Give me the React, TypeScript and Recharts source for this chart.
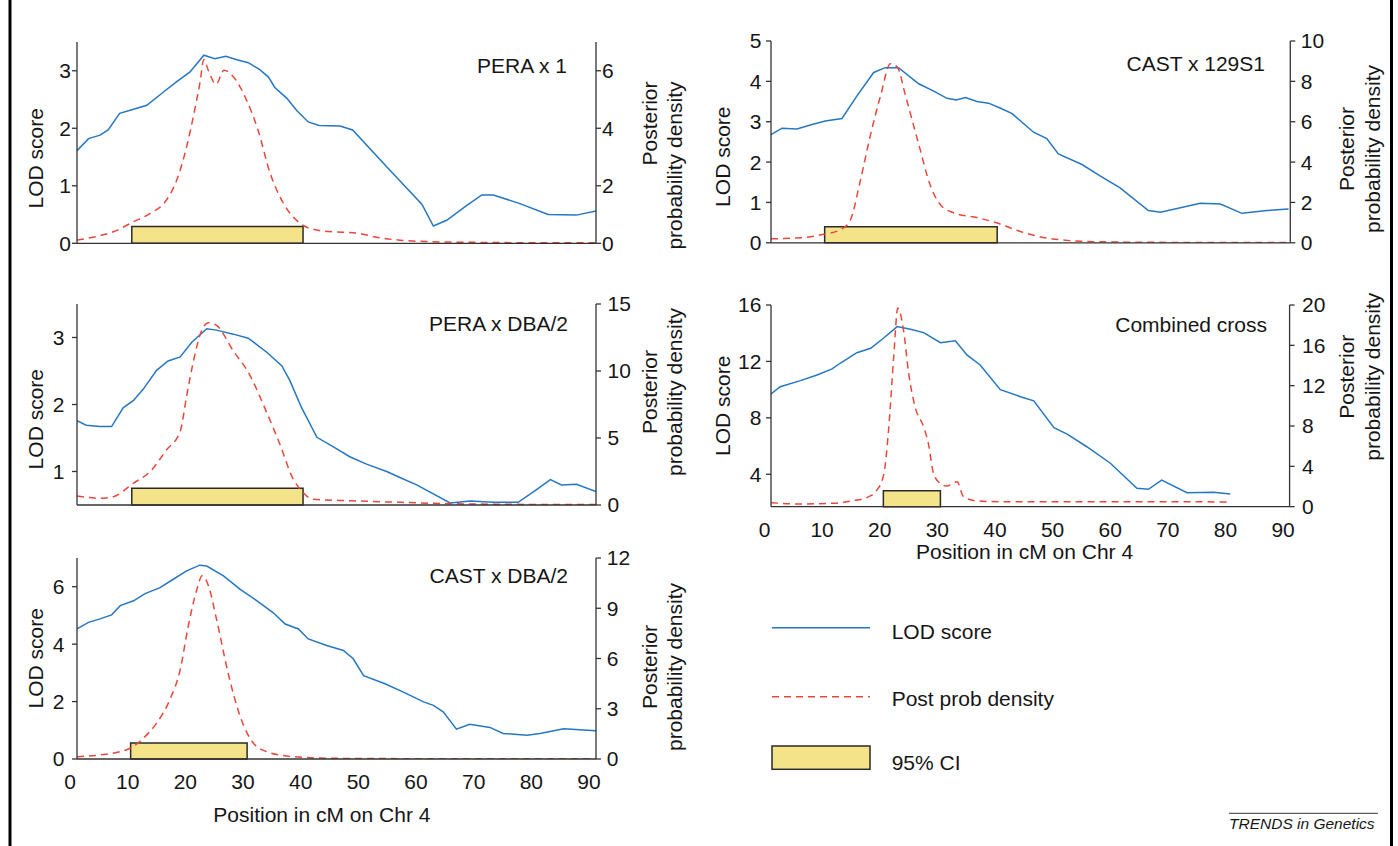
import React from 'react';
import { ComposedChart, Line, XAxis, YAxis, ReferenceArea } from 'recharts';

type Pt = [number, number];

const FONT = '"Liberation Sans", Arial, Helvetica, sans-serif';
const BLUE = '#2677c2';
const RED = '#e6483b';
const YELLOW = '#f5e38a';
const AXIS = '#333333';
const TEXT = '#161616';

const positionTicks = [0, 10, 20, 30, 40, 50, 60, 70, 80, 90];

// PERA x 1
const pera1Lod: Pt[] = [
  [0, 1.61], [2, 1.82], [4, 1.88], [5.4, 1.97], [7.4, 2.26], [9.8, 2.33], [12.1, 2.4], [15, 2.63],
  [17.3, 2.81], [19.6, 2.98], [22, 3.27], [23.9, 3.21], [25.8, 3.25], [27.7, 3.19], [29.7, 3.14],
  [31.7, 3.02], [33.2, 2.89], [34.3, 2.71], [36.4, 2.52], [38.1, 2.31], [40.1, 2.11], [42, 2.05],
  [45.6, 2.04], [47.8, 1.97], [53.7, 1.33], [59.8, 0.68], [61.8, 0.3], [64.1, 0.4], [67.6, 0.66],
  [70.2, 0.84], [72.2, 0.84], [76.8, 0.69], [81.7, 0.5], [86.6, 0.49], [90, 0.56],
];
const pera1Post: Pt[] = [
  [0, 0.11], [3, 0.22], [6.3, 0.4], [9.8, 0.75], [12.7, 1.04], [15.5, 1.5], [17.3, 2.2], [19, 3.35],
  [20.4, 4.63], [21.3, 5.56], [22, 6.39], [22.8, 6.0], [24.1, 5.53], [25.5, 6.02], [27.1, 5.79],
  [29.4, 4.98], [31.4, 3.93], [33.5, 2.43], [35.8, 1.39], [38.7, 0.69], [41.6, 0.46], [44.4, 0.4],
  [47.9, 0.37], [53.1, 0.17], [56, 0.11], [60.6, 0.06], [70, 0.03], [80, 0.02], [90, 0.02],
];

// PERA x DBA/2
const peraDbaLod: Pt[] = [
  [0, 1.76], [1.6, 1.69], [4, 1.67], [6, 1.67], [8, 1.95], [9.8, 2.06], [11.5, 2.23], [13.8, 2.51],
  [15.8, 2.65], [17.9, 2.71], [19.9, 2.93], [22.5, 3.13], [24.2, 3.11], [27.1, 3.05], [29.7, 2.99],
  [32.9, 2.78], [35.5, 2.58], [36.9, 2.36], [38.9, 1.96], [41.6, 1.51], [44.4, 1.37], [47.3, 1.22],
  [50.2, 1.11], [53.7, 1.0], [56, 0.91], [58.9, 0.8], [64.7, 0.53], [68.2, 0.56], [72.2, 0.54],
  [76.5, 0.54], [79.2, 0.7], [82.1, 0.88], [84, 0.8], [86.6, 0.81], [90, 0.7],
];
const peraDbaPost: Pt[] = [
  [0, 0.68], [4, 0.5], [6.3, 0.62], [9.8, 1.63], [12.7, 2.5], [15.5, 4.1], [17.9, 5.5], [19, 8.1],
  [20.2, 10.75], [21.6, 13.0], [22.8, 13.6], [24.2, 13.4], [27.1, 11.5], [29.7, 9.9], [32.9, 6.9],
  [35.3, 4.4], [37.3, 2.1], [38.9, 1.07], [41, 0.43], [47.3, 0.32], [56, 0.2], [64.7, 0.1],
  [75, 0.05], [90, 0.03],
];

// CAST x DBA/2
const castDbaLod: Pt[] = [
  [0, 4.53], [2, 4.76], [4, 4.88], [6, 5.02], [7.5, 5.34], [9.8, 5.51], [11.8, 5.76], [14.4, 5.97],
  [16.7, 6.26], [19, 6.55], [21.3, 6.75], [22.5, 6.72], [25.4, 6.38], [28.3, 5.91], [31.2, 5.51],
  [34, 5.1], [36.1, 4.7], [38.4, 4.53], [40.1, 4.18], [43.3, 3.95], [46.2, 3.78], [47.9, 3.49],
  [49.7, 2.9], [53.4, 2.62], [56.6, 2.33], [60.1, 1.99], [61.8, 1.87], [63.5, 1.64], [65.8, 1.04],
  [68.1, 1.21], [71.6, 1.1], [73.9, 0.89], [78, 0.83], [80.3, 0.89], [84.4, 1.05], [90, 0.98],
];
const castDbaPost: Pt[] = [
  [0, 0.14], [4, 0.24], [9.2, 0.64], [11.5, 1.24], [13.8, 2.14], [16.1, 3.54], [17.9, 5.34],
  [19.3, 7.94], [20.8, 10.14], [21.7, 10.94], [22.8, 10.34], [24.2, 8.34], [26.2, 5.14],
  [28.3, 2.54], [30.6, 0.94], [32.9, 0.44], [37.5, 0.14], [44.4, 0.04], [60, 0.02], [90, 0.02],
];

// CAST x 129S1
const cast129Lod: Pt[] = [
  [0, 2.68], [1.9, 2.84], [4.5, 2.82], [6.8, 2.92], [9.4, 3.02], [12.3, 3.08], [14.9, 3.64],
  [17.8, 4.22], [19.8, 4.34], [22.1, 4.34], [25.6, 3.94], [28.2, 3.76], [30.5, 3.58], [32.1, 3.54],
  [33.7, 3.6], [35.7, 3.5], [37.7, 3.46], [39.7, 3.34], [41.8, 3.2], [45.5, 2.74], [47.8, 2.58],
  [49.8, 2.2], [53.9, 1.94], [57.1, 1.65], [60.5, 1.36], [65.4, 0.8], [67.5, 0.76], [74.4, 0.98],
  [77.9, 0.96], [81.6, 0.73], [86, 0.8], [89.7, 0.84],
];
const cast129Post: Pt[] = [
  [0, 0.2], [5.1, 0.25], [9.1, 0.42], [12, 0.65], [13.7, 1.1], [15.5, 3.1], [17.2, 5.3], [19, 7.3],
  [20.7, 8.87], [21.9, 8.7], [23.3, 7.3], [25.4, 5.1], [27.7, 2.78], [29.4, 1.87], [31.7, 1.48],
  [35.7, 1.25], [39.2, 0.98], [42.6, 0.62], [45.5, 0.37], [51.3, 0.12], [57, 0.05], [70, 0.02],
  [90, 0.02],
];

// Combined cross
const combinedLod: Pt[] = [
  [0, 9.69], [1.6, 10.21], [5.1, 10.64], [8, 11.04], [10.6, 11.47], [12, 11.87], [14.9, 12.62],
  [17.3, 12.93], [19.5, 13.64], [21.9, 14.47], [24.2, 14.28], [26.5, 14.04], [29.4, 13.33],
  [32, 13.47], [34, 12.46], [36.3, 11.75], [39.8, 10.0], [43.3, 9.5], [45.6, 9.2], [49.1, 7.3],
  [51.4, 6.85], [54.8, 5.95], [58.9, 4.78], [63.5, 3.0], [65.5, 2.93], [67.8, 3.59], [72.2, 2.69],
  [76.8, 2.72], [79.7, 2.6],
];
const combinedPost: Pt[] = [
  [0, 0.4], [5, 0.27], [10.8, 0.34], [14.3, 0.6], [16.7, 0.93], [18.4, 1.66], [19.6, 3.3],
  [20.4, 7.6], [21.3, 14.9], [22, 19.7], [23, 17.5], [23.9, 13.2], [25, 9.9], [26.5, 7.9],
  [27.3, 6.3], [28.2, 3.3], [29.4, 2.3], [30.5, 2.05], [32.3, 2.48], [33.4, 0.99], [35.7, 0.57],
  [40, 0.5], [60, 0.5], [79.1, 0.47],
];

const panelNames = ['PERA x 1', 'PERA x DBA/2', 'CAST x DBA/2', 'CAST x 129S1', 'Combined cross'];
const lodSeries = [pera1Lod, peraDbaLod, castDbaLod, cast129Lod, combinedLod];
const postSeries = [pera1Post, peraDbaPost, castDbaPost, cast129Post, combinedPost];
const lodDomains: [number, number][] = [[0, 3.5], [0.5, 3.5], [0, 7], [0, 5], [1.7, 16]];
const lodTicks = [[0, 1, 2, 3], [1, 2, 3], [0, 2, 4, 6], [0, 1, 2, 3, 4, 5], [4, 8, 12, 16]];
const postDomains: [number, number][] = [[0, 7], [0, 15], [0, 12], [0, 10], [0, 20]];
const postTicks = [[0, 2, 4, 6], [0, 5, 10, 15], [0, 3, 6, 9, 12], [0, 2, 4, 6, 8, 10], [0, 4, 8, 12, 16, 20]];
const ciStart = [9.5, 9.5, 9.3, 9.3, 19.5];
const ciEnd = [39.2, 39.2, 29.5, 39.2, 29.4];
const ciTop = [0.29, 0.75, 0.56, 0.4, 2.83];

const legendLabels = ['LOD score', 'Post prob density', '95% CI'];
const xAxisTitle = 'Position in cM on Chr 4';
const lodTitle = 'LOD score';
const postTitle = ['Posterior', 'probability density'];

type Layout = {
  left: number; right: number; top: number; bottom: number;
  showX: boolean; lMargin: number; rMargin: number; dx: number;
};

const layouts: Layout[] = [
  { left: 77, right: 596, top: 42, bottom: 243.3, showX: false, lMargin: 1, rMargin: 1, dx: 0 },
  { left: 77, right: 596, top: 304, bottom: 505, showX: false, lMargin: 7.5, rMargin: 6.5, dx: 0 },
  { left: 77, right: 596, top: 558, bottom: 759, showX: true, lMargin: 7.5, rMargin: 5.8, dx: -7 },
  { left: 770.7, right: 1290, top: 40.5, bottom: 242.3, showX: false, lMargin: 4.7, rMargin: 5.5, dx: 0 },
  { left: 770.7, right: 1289.3, top: 305, bottom: 506.7, showX: true, lMargin: 4.7, rMargin: 7.5, dx: -6.5 },
];

const toRows = (pts: Pt[]) => pts.map(([x, y]) => ({ x, y }));

function Panel({ i }: { i: number }) {
  const g = layouts[i];
  const axisW = 70;
  const mTop = 14;
  const xH = g.showX ? 40 : 24;
  const plotW = g.right - g.left;
  const plotH = g.bottom - g.top;
  const tickStyle = { fontSize: 21, fill: TEXT, fontFamily: FONT };
  return (
    <div style={{ position: 'absolute', left: g.left - axisW, top: g.top - mTop }}>
      <ComposedChart
        width={plotW + 2 * axisW}
        height={plotH + mTop + xH}
        margin={{ top: mTop, right: 0, bottom: 0, left: 0 }}
      >
        <XAxis
          type="number"
          dataKey="x"
          domain={[0, 90]}
          ticks={positionTicks}
          interval={0}
          allowDataOverflow
          height={xH}
          tick={g.showX ? { ...tickStyle, dx: g.dx } : false}
          tickLine={false}
          tickSize={6}
          tickMargin={9}
          axisLine={{ stroke: AXIS, strokeWidth: 1.3 }}
        />
        <YAxis
          yAxisId="L"
          orientation="left"
          type="number"
          width={axisW}
          domain={lodDomains[i]}
          ticks={lodTicks[i]}
          interval={0}
          allowDataOverflow
          tick={tickStyle}
          tickSize={5}
          tickMargin={g.lMargin}
          tickLine={{ stroke: AXIS, strokeWidth: 1.3 }}
          axisLine={{ stroke: AXIS, strokeWidth: 1.3 }}
        />
        <YAxis
          yAxisId="R"
          orientation="right"
          type="number"
          width={axisW}
          domain={postDomains[i]}
          ticks={postTicks[i]}
          interval={0}
          allowDataOverflow
          tick={tickStyle}
          tickSize={5}
          tickMargin={g.rMargin}
          tickLine={{ stroke: AXIS, strokeWidth: 1.3 }}
          axisLine={{ stroke: AXIS, strokeWidth: 1.3 }}
        />
        <ReferenceArea
          yAxisId="L"
          x1={ciStart[i]}
          x2={ciEnd[i]}
          y1={lodDomains[i][0]}
          y2={ciTop[i]}
          fill={YELLOW}
          fillOpacity={1}
          stroke="#2a2a2a"
          strokeWidth={1.5}
        />
        <Line
          yAxisId="L"
          data={toRows(lodSeries[i])}
          dataKey="y"
          type="linear"
          stroke={BLUE}
          strokeWidth={1.5}
          dot={false}
          activeDot={false}
          isAnimationActive={false}
        />
        <Line
          yAxisId="R"
          data={toRows(postSeries[i])}
          dataKey="y"
          type="monotone"
          stroke={RED}
          strokeWidth={1.5}
          strokeDasharray="7 5"
          dot={false}
          activeDot={false}
          isAnimationActive={false}
        />
      </ComposedChart>
    </div>
  );
}

// text positions for titles and axis labels (page coords)
const titlePos: [number, number][] = [[567, 72.7], [568, 331], [568, 582.7], [1265, 70.7], [1267, 331.7]];
const lodLabelPos: [number, number][] = [[43.3, 158.3], [43.3, 419.2], [43.3, 658.3], [730, 156.7], [730, 405.8]];
const postLabelPos: { x1: number; x2: number; y: number; anchor: 'end' | 'middle' }[] = [
  { x1: 656.7, x2: 681.7, y: 81.5, anchor: 'end' },
  { x1: 657, x2: 682, y: 392, anchor: 'middle' },
  { x1: 657, x2: 682, y: 667, anchor: 'middle' },
  { x1: 1354, x2: 1380, y: 149, anchor: 'middle' },
  { x1: 1354, x2: 1380, y: 376.7, anchor: 'middle' },
];

function Overlay() {
  const fs = 21;
  return (
    <svg
      width={1398}
      height={846}
      style={{ position: 'absolute', left: 0, top: 0, pointerEvents: 'none' }}
      fontFamily={FONT}
    >
      {/* frame */}
      <line x1={10} y1={0} x2={10} y2={846} stroke="#000" strokeWidth={3} />
      <line x1={1391.5} y1={0} x2={1391.5} y2={846} stroke="#000" strokeWidth={3} />

      {panelNames.map((t, i) => (
        <text key={'t' + i} x={titlePos[i][0]} y={titlePos[i][1]} fontSize={fs} fill={TEXT} textAnchor="end">
          {t}
        </text>
      ))}
      {lodLabelPos.map(([x, y], i) => (
        <text key={'l' + i} x={x} y={y} fontSize={fs} fill={TEXT} textAnchor="middle" transform={`rotate(-90 ${x} ${y})`}>
          {lodTitle}
        </text>
      ))}
      {postLabelPos.map((p, i) => (
        <g key={'p' + i}>
          <text x={p.x1} y={p.y} fontSize={fs} fill={TEXT} textAnchor={p.anchor} transform={`rotate(-90 ${p.x1} ${p.y})`}>
            {postTitle[0]}
          </text>
          <text x={p.x2} y={p.y} fontSize={fs} fill={TEXT} textAnchor={p.anchor} transform={`rotate(-90 ${p.x2} ${p.y})`}>
            {postTitle[1]}
          </text>
        </g>
      ))}
      <text x={213.3} y={821.5} fontSize={fs} fill={TEXT}>{xAxisTitle}</text>
      <text x={916} y={559.3} fontSize={fs} fill={TEXT}>{xAxisTitle}</text>

      {/* legend */}
      <line x1={772} y1={627.7} x2={870} y2={627.7} stroke={BLUE} strokeWidth={1.5} />
      <text x={891.7} y={639.3} fontSize={fs} fill={TEXT}>{legendLabels[0]}</text>
      <line x1={772} y1={696.7} x2={870} y2={696.7} stroke={RED} strokeWidth={1.5} strokeDasharray="7 5" />
      <text x={891.7} y={706} fontSize={fs} fill={TEXT}>{legendLabels[1]}</text>
      <rect x={772} y={746} width={98} height={23.3} fill={YELLOW} stroke="#2a2a2a" strokeWidth={1.5} />
      <text x={891.7} y={770} fontSize={fs} fill={TEXT}>{legendLabels[2]}</text>

      {/* footer */}
      <line x1={1229} y1={813.3} x2={1378} y2={813.3} stroke="#333" strokeWidth={1} />
      <text x={1229} y={828.5} fontSize={15.5} fontStyle="italic" fill={TEXT}>TRENDS in Genetics</text>
    </svg>
  );
}

export default function App() {
  return (
    <div
      style={{
        position: 'absolute',
        left: 0,
        top: 0,
        width: 1398,
        height: 846,
        background: '#fff',
        overflow: 'hidden',
        fontFamily: FONT,
      }}
    >
      {[0, 1, 2, 3, 4].map((i) => (
        <Panel key={i} i={i} />
      ))}
      <Overlay />
    </div>
  );
}
